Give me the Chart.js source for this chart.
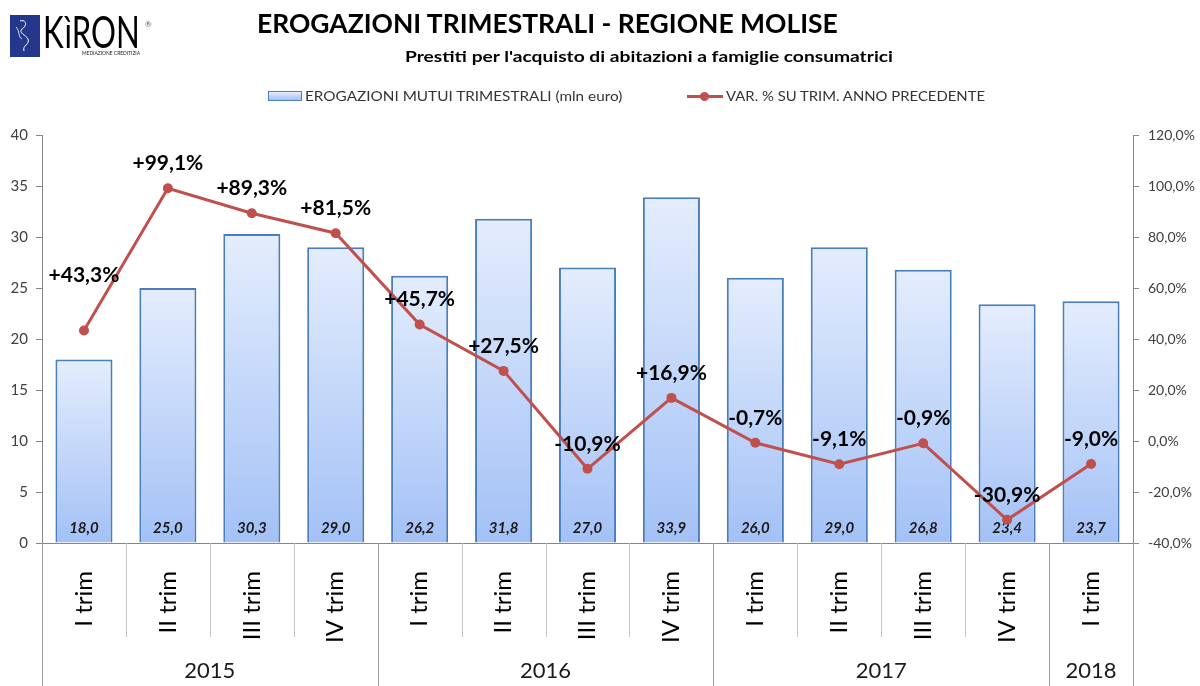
<!DOCTYPE html>
<html>
<head>
<meta charset="utf-8">
<script src="https://cdn.jsdelivr.net/npm/chart.js@4.4.0/dist/chart.umd.min.js"></script>
<style>
  body { margin: 0; background: #fff; font-family: Lato, sans-serif; }
  #wrap { position: relative; width: 1200px; height: 686px; overflow: hidden; }
  canvas { position: absolute; left: 0; top: 0; }
  .txt { position: absolute; white-space: nowrap; line-height: 1; transform-origin: left center; }
  #logoBox { position: absolute; left: 10px; top: 15px; width: 30px; height: 42px; background: #24378c; }
  #title { left: 257px; top: 10px; font-size: 26px; font-weight: bold; color: #000; }
  #subtitle { left: 405px; top: 48px; font-size: 16px; font-weight: bold; color: #000; }
  #logoText { left: 43px; top: 9px; font-size: 44px; color: #000; font-weight: 400; }
  #logoReg { left: 145px; top: 20px; font-size: 8px; color: #555; }
  #logoSub { left: 82px; top: 50px; font-size: 6px; color: #222; }
  .leg { top: 89px; font-size: 14px; color: #333; }
  #legBar { position: absolute; left: 268px; top: 91px; width: 32px; height: 8px; border: 1px solid #4f81bd;
            background: linear-gradient(#e4edfd, #a3c1f6); }
  #legLine { position: absolute; left: 687px; top: 95px; width: 36px; height: 3px; background: #c0504d; }
  #legDot { position: absolute; left: 700px; top: 92px; width: 9px; height: 9px; border-radius: 50%; background: #c0504d; }
</style>
</head>
<body>
<div id="wrap">
  <canvas id="chart" width="1200" height="686"></canvas>
  <div id="logoBox">
    <svg width="30" height="42" viewBox="0 0 30 42">
      <path d="M10 6 C16 4 18 10 12 14 C8 18 16 20 18 24 C20 30 12 30 14 36" stroke="#fff" stroke-width="1" fill="none"/>
      <path d="M6 12 C10 16 8 22 12 24" stroke="#fff" stroke-width="0.8" fill="none"/>
    </svg>
  </div>
  <div class="txt" id="logoText">KìRON</div>
  <div class="txt" id="logoReg">®</div>
  <div class="txt" id="logoSub">MEDIAZIONE CREDITIZIA</div>
  <div class="txt" id="title">EROGAZIONI TRIMESTRALI - REGIONE MOLISE</div>
  <div class="txt" id="subtitle">Prestiti per l'acquisto di abitazioni a famiglie consumatrici</div>
  <div id="legBar"></div>
  <div class="txt leg" id="legText1" style="left:305px">EROGAZIONI MUTUI TRIMESTRALI (mln euro)</div>
  <div id="legLine"></div>
  <div id="legDot"></div>
  <div class="txt leg" id="legText2" style="left:726px">VAR. % SU TRIM. ANNO PRECEDENTE</div>
</div>
<script>
const quarters = ['I trim', 'II trim', 'III trim', 'IV trim', 'I trim', 'II trim', 'III trim', 'IV trim',
                  'I trim', 'II trim', 'III trim', 'IV trim', 'I trim'];
const years = ['2015', '2016', '2017', '2018'];
const quartersPerYear = [4, 4, 4, 1];
const erogazioni = [18.0, 25.0, 30.3, 29.0, 26.2, 31.8, 27.0, 33.9, 26.0, 29.0, 26.8, 23.4, 23.7];
const variazione = [43.3, 99.1, 89.3, 81.5, 45.7, 27.5, -10.9, 16.9, -0.7, -9.1, -0.9, -30.9, -9.0];

function fit(id, width) {
  const el = document.getElementById(id);
  el.style.transform = 'scaleX(' + (width / el.offsetWidth) + ')';
}
fit('title', 581);
fit('subtitle', 488);
fit('legText1', 317);
fit('legText2', 259);
fit('logoText', 97);
fit('logoSub', 58);

const comma = v => v.toFixed(1).replace('.', ',');

const decorations = {
  id: 'decorations',
  afterDatasetDraw(chart, args) {
    if (args.index !== 0) return;
    const ctx = chart.ctx;
    const zero = chart.scales.y.getPixelForValue(0);
    ctx.save();
    ctx.font = 'italic bold 15px Lato';
    ctx.fillStyle = '#1a1a1a';
    ctx.textAlign = 'center';
    ctx.textBaseline = 'middle';
    chart.getDatasetMeta(0).data.forEach((bar, i) => {
      ctx.fillText(comma(erogazioni[i]), bar.x, zero - 15);
    });
    ctx.restore();
  },
  afterDatasetsDraw(chart) {
    const ctx = chart.ctx;
    const x = chart.scales.x;
    const area = chart.chartArea;
    const bottom = area.bottom;
    ctx.save();

    // line labels
    ctx.font = 'bold 21px Lato';
    ctx.fillStyle = '#000';
    ctx.textAlign = 'center';
    ctx.textBaseline = 'middle';
    chart.getDatasetMeta(1).data.forEach((pt, i) => {
      const v = variazione[i];
      const dy = i === 0 ? 55 : 25;
      ctx.fillText((v > 0 ? '+' : '') + comma(v) + '%', pt.x, pt.y - dy);
    });

    // category separators
    const edge = i => {
      if (i <= 0) return area.left;
      if (i >= quarters.length) return area.right;
      return (x.getPixelForValue(i - 1) + x.getPixelForValue(i)) / 2;
    };
    ctx.lineWidth = 1;
    ctx.strokeStyle = '#c4c4c4';
    for (let i = 1; i < quarters.length; i++) {
      const px = Math.round(edge(i)) + 0.5;
      ctx.beginPath();
      ctx.moveTo(px, bottom);
      ctx.lineTo(px, bottom + 94);
      ctx.stroke();
    }

    // year separators and labels
    let start = 0;
    ctx.font = '22px Lato';
    ctx.fillStyle = '#1a1a1a';
    ctx.strokeStyle = '#a0a0a0';
    const drawTall = i => {
      const px = Math.round(edge(i)) + 0.5;
      ctx.beginPath();
      ctx.moveTo(px, bottom);
      ctx.lineTo(px, chart.height);
      ctx.stroke();
    };
    drawTall(0);
    years.forEach((yr, k) => {
      const end = start + quartersPerYear[k];
      drawTall(end);
      ctx.fillText(yr, (edge(start) + edge(end)) / 2, 671);
      start = end;
    });
    ctx.restore();
  }
};

new Chart(document.getElementById('chart'), {
  data: {
    labels: quarters,
    datasets: [
      {
        type: 'bar',
        label: 'EROGAZIONI MUTUI TRIMESTRALI (mln euro)',
        data: erogazioni,
        yAxisID: 'y',
        order: 1,
        borderColor: '#4a7ebb',
        borderWidth: 2,
        barPercentage: 0.68,
        categoryPercentage: 1,
        backgroundColor: (c) => {
          const chart = c.chart;
          if (!chart.chartArea || c.type !== 'data') return '#c6d9f8';
          const y = chart.scales.y;
          const g = chart.ctx.createLinearGradient(0, y.getPixelForValue(c.raw), 0, y.getPixelForValue(0));
          g.addColorStop(0, '#e4edfd');
          g.addColorStop(1, '#a3c1f6');
          return g;
        }
      },
      {
        type: 'line',
        label: 'VAR. % SU TRIM. ANNO PRECEDENTE',
        data: variazione,
        yAxisID: 'y1',
        order: 0,
        borderColor: '#c0504d',
        backgroundColor: '#c0504d',
        borderWidth: 3,
        pointRadius: 5,
        pointBackgroundColor: '#c0504d',
        pointBorderWidth: 0,
        tension: 0
      }
    ]
  },
  options: {
    responsive: false,
    animation: false,
    layout: { padding: { top: 135, left: 0, right: 0, bottom: 0 } },
    plugins: {
      legend: { display: false },
      tooltip: { enabled: false }
    },
    scales: {
      x: {
        grid: { display: false },
        border: { display: true, color: '#868686' },
        ticks: {
          autoSkip: false,
          minRotation: 90,
          maxRotation: 90,
          padding: 20,
          color: '#000',
          font: { family: 'Lato', size: 24 }
        },
        afterFit: s => { s.height = 143; }
      },
      y: {
        position: 'left',
        min: 0,
        max: 40,
        ticks: { stepSize: 5, padding: 8, color: '#404040', font: { family: 'Lato', size: 15 } },
        grid: { drawOnChartArea: false, tickLength: 6, color: '#868686' },
        border: { color: '#868686' },
        afterFit: s => { s.width = 42; }
      },
      y1: {
        position: 'right',
        min: -40,
        max: 120,
        ticks: {
          stepSize: 20,
          padding: 9,
          color: '#404040',
          font: { family: 'Lato', size: 14 },
          callback: v => comma(v) + '%'
        },
        grid: { drawOnChartArea: false, tickLength: 6, color: '#868686' },
        border: { color: '#868686' },
        afterFit: s => { s.width = 67; }
      }
    }
  },
  plugins: [decorations]
});
</script>
</body>
</html>
